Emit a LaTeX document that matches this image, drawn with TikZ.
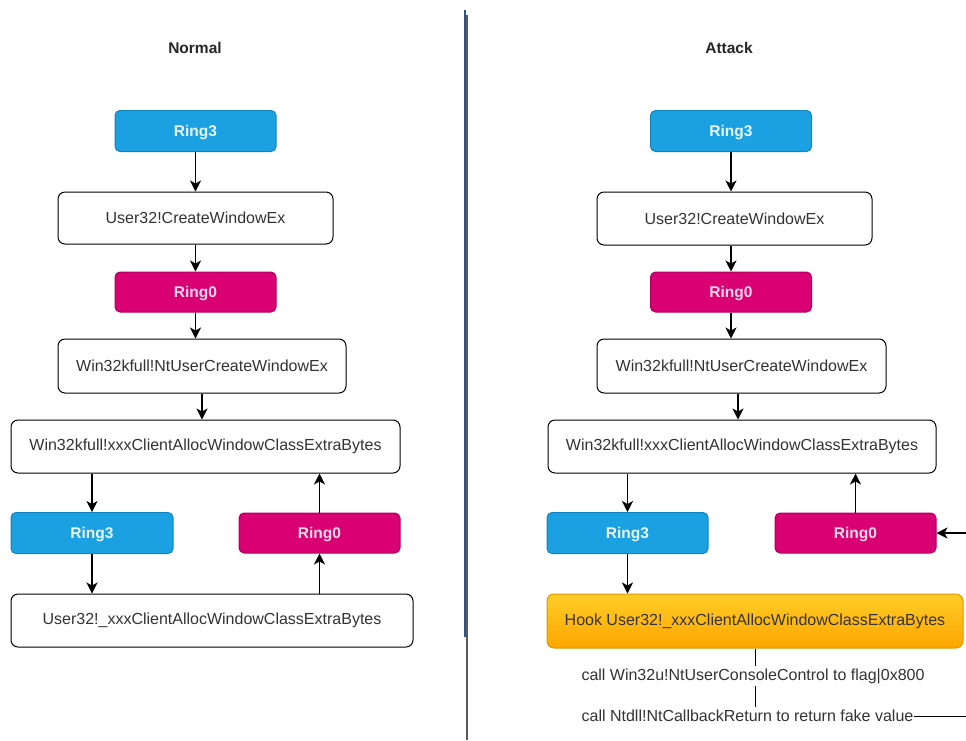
\documentclass[tikz,border=0pt]{standalone}
\usepackage{fontspec}
\setmainfont{Liberation Sans}
\usetikzlibrary{arrows.meta}
\definecolor{ringblue}{HTML}{1BA1E2}
\definecolor{ringblueb}{HTML}{1382BE}
\definecolor{ringmag}{HTML}{D80073}
\definecolor{ringmagb}{HTML}{B0005E}
\definecolor{txt}{HTML}{333333}
\definecolor{hooktop}{HTML}{FFCD28}
\definecolor{hookbot}{HTML}{FFA500}
\definecolor{hookb}{HTML}{D79B00}
\definecolor{divblue}{HTML}{2F5289}
\definecolor{divgray}{HTML}{5A5A5A}
\tikzset{
  base/.style={rounded corners=7pt, line width=1pt, inner sep=0pt, font=\fontsize{16}{18}\selectfont},
  wbox/.style={base, draw=black, fill=white, text=txt},
  r3box/.style={base, draw=ringblueb, fill=ringblue, text=white!90!ringblue, font=\fontsize{15.5}{18}\selectfont\bfseries, minimum width=161pt, minimum height=41pt, rounded corners=5pt, text depth=1pt},
  r0box/.style={base, draw=ringmagb, fill=ringmag, text=white!85!ringmag, font=\fontsize{15.5}{18}\selectfont\bfseries, minimum width=161pt, minimum height=40pt, rounded corners=5pt, text depth=1pt},
  hookbox/.style={base, draw=hookb, top color=hooktop, bottom color=hookbot, text=txt},
  title/.style={font=\fontsize{15.5}{18}\selectfont\bfseries, text=black!85},
  plain/.style={font=\fontsize{16}{18}\selectfont, text=txt, inner sep=0pt},
  arr/.style={line width=1.3pt, -{Stealth[length=11pt,width=11pt,inset=3pt]}},
  ln/.style={line width=1pt}
}
\begin{document}
\begin{tikzpicture}[x=1pt,y=-1pt]
\useasboundingbox (0,0) rectangle (966,740);
\fill[white] (0,0) rectangle (966,740);
% divider
\draw[divgray, line width=2pt] (467,15) -- (467,740);
\draw[divblue, line width=2pt] (465,10) -- (465,637);
% Normal column
\node[title] (tn) at (195,48) {Normal};
\node[r3box] (r3a) at (195.5,131) {Ring3};
\node[wbox, minimum width=275pt, minimum height=52pt] (cwa) at (195.5,218) {User32!CreateWindowEx};
\node[r0box] (r0a) at (195.5,292) {Ring0};
\node[wbox, minimum width=288pt, minimum height=54pt] (nta) at (202,366) {Win32kfull!NtUserCreateWindowEx};
\node[wbox, minimum width=389pt, minimum height=53pt] (xca) at (205.5,446.5) {Win32kfull!xxxClientAllocWindowClassExtraBytes};
\node[r3box, minimum width=162pt] (r3b) at (92,533) {Ring3};
\node[r0box] (r0b) at (319.5,533) {Ring0};
\node[wbox, minimum width=402pt, minimum height=53pt] (usa) at (212,620.5) {User32!\_xxxClientAllocWindowClassExtraBytes};
\draw[arr] (r3a.south) -- (r3a.south |- cwa.north);
\draw[arr] (cwa.south) -- (cwa.south |- r0a.north);
\draw[arr] (r0a.south) -- (r0a.south |- nta.north);
\draw[arr] (nta.south) -- (nta.south |- xca.north);
\draw[arr] (r3b.north |- xca.south) -- (r3b.north);
\draw[arr] (r0b.north) -- (r0b.north |- xca.south);
\draw[arr] (r3b.south) -- (r3b.south |- usa.north);
\draw[arr] (r0b.south |- usa.north) -- (r0b.south);
% Attack column
\node[title] (ta) at (729,48) {Attack};
\node[r3box] (r3c) at (731,131) {Ring3};
\node[wbox, minimum width=275pt, minimum height=53pt] (cwb) at (734.5,218.5) {User32!CreateWindowEx};
\node[r0box] (r0c) at (731,292) {Ring0};
\node[wbox, minimum width=289pt, minimum height=54pt] (ntb) at (741.5,366) {Win32kfull!NtUserCreateWindowEx};
\node[wbox, minimum width=388pt, minimum height=53pt] (xcb) at (742,446.5) {Win32kfull!xxxClientAllocWindowClassExtraBytes};
\node[r3box] (r3d) at (627.5,533) {Ring3};
\node[r0box] (r0d) at (855.5,533) {Ring0};
\node[hookbox, minimum width=416pt, minimum height=54pt] (hook) at (755,621) {Hook User32!\_xxxClientAllocWindowClassExtraBytes};
\node[plain, minimum height=20pt] (c1) at (753,676) {call Win32u!NtUserConsoleControl to flag|0x800};
\node[plain, minimum height=18pt] (c2) at (747.5,716) {call Ntdll!NtCallbackReturn to return fake value};
\coordinate (ein) at (966,533);
\coordinate (eout) at (966,716);
\coordinate (mx) at (738,0);
\draw[arr] (r3c.south) -- (r3c.south |- cwb.north);
\draw[arr] (r0c.south |- cwb.south) -- (r0c.north);
\draw[arr] (r0c.south) -- (r0c.south |- ntb.north);
\draw[arr] (mx |- ntb.south) -- (mx |- xcb.north);
\draw[arr] (r3d.north |- xcb.south) -- (r3d.north);
\draw[arr] (r0d.north) -- (r0d.north |- xcb.south);
\draw[arr] (r3d.south) -- (r3d.south |- hook.north);
\draw[arr] (ein) -- (r0d.east);
\draw[ln] (hook.south) -- (hook.south |- c1.north);
\draw[ln] (hook.south |- c1.south) -- (hook.south |- c2.north);
\draw[ln] (c2.east) -- (eout);
\end{tikzpicture}
\end{document}
